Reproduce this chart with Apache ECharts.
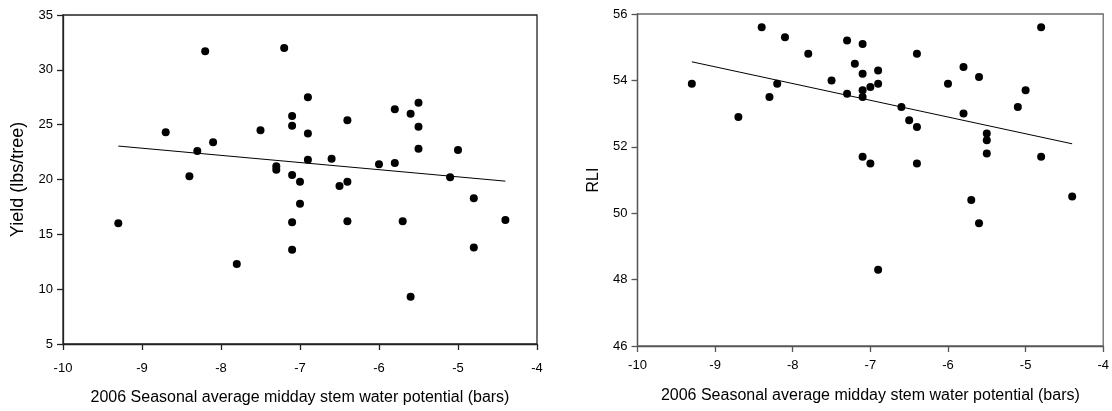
<!DOCTYPE html>
<html>
<head>
<meta charset="utf-8">
<script src="https://cdn.jsdelivr.net/npm/echarts@6/dist/echarts.min.js"></script>
<style>
  html, body { margin: 0; padding: 0; background: #fff; }
  #chart { width: 1112px; height: 411px; }
</style>
</head>
<body>
<div id="chart"></div>
<script>
// stem water potential (bars), one value per tree
const swpYield = [-9.3, -8.7, -8.4, -8.3, -8.2, -8.1, -7.8, -7.5, -7.3, -7.3,
  -7.2, -7.1, -7.1, -7.1, -7.1, -7.1, -7.0, -7.0, -6.9, -6.9,
  -6.9, -6.6, -6.5, -6.4, -6.4, -6.4, -6.0, -5.8, -5.8, -5.7,
  -5.6, -5.6, -5.5, -5.5, -5.5, -5.1, -5.0, -4.8, -4.8, -4.4];
const yieldVals = [16.0, 24.3, 20.3, 22.6, 31.7, 23.4, 12.3, 24.5, 21.2, 20.9,
  32.0, 25.8, 24.9, 20.4, 16.1, 13.6, 19.8, 17.8, 27.5, 24.2,
  21.8, 21.9, 19.4, 25.4, 19.8, 16.2, 21.4, 26.4, 21.5, 16.2,
  26.0, 9.3, 27.0, 24.8, 22.8, 20.2, 22.7, 18.3, 13.8, 16.3];

const swpRli = [-9.3, -8.7, -8.4, -8.3, -8.2, -8.1, -7.8, -7.5, -7.3, -7.3,
  -7.2, -7.1, -7.1, -7.1, -7.1, -7.1, -7.0, -7.0, -6.9, -6.9,
  -6.9, -6.6, -6.5, -6.4, -6.4, -6.4, -6.0, -5.8, -5.8, -5.7,
  -5.6, -5.6, -5.5, -5.5, -5.5, -5.1, -5.0, -4.8, -4.8, -4.4];
const rliVals = [53.9, 52.9, 55.6, 53.5, 53.9, 55.3, 54.8, 54.0, 55.2, 53.6,
  54.5, 55.1, 54.2, 53.7, 53.5, 51.7, 53.8, 51.5, 54.3, 53.9,
  48.3, 53.2, 52.8, 54.8, 52.6, 51.5, 53.9, 54.4, 53.0, 50.4,
  54.1, 49.7, 52.4, 52.2, 51.8, 53.2, 53.7, 55.6, 51.7, 50.5];

// regression line end points as drawn
const yieldFitX = [-9.3, -4.4];
const yieldFitY = [23.05, 19.85];
const rliFitX = [-9.3, -4.4];
const rliFitY = [54.56, 52.09];

const xTitle = '2006 Seasonal average midday stem water potential (bars)';
const font = 'Liberation Sans, Arial, sans-serif';

function pairs(xs, ys) {
  return xs.map((x, i) => [x, ys[i]]);
}

function xAxisOf(gridIndex, color, labelMargin, nameGap) {
  return {
    type: 'value',
    gridIndex: gridIndex,
    min: -10, max: -4, interval: 1,
    name: xTitle,
    nameLocation: 'middle',
    nameGap: nameGap,
    nameTextStyle: { fontFamily: font, fontSize: 16, color: '#000' },
    axisLine: { show: true, onZero: false, lineStyle: { color: color, width: 1.3 } },
    axisTick: { show: true, length: 6, lineStyle: { color: color, width: 1.3 } },
    axisLabel: { fontFamily: font, fontSize: 13, color: '#000', margin: labelMargin },
    splitLine: { show: false }
  };
}

function yAxisOf(gridIndex, color, min, max, step, name, nameSize) {
  return {
    type: 'value',
    gridIndex: gridIndex,
    min: min, max: max, interval: step,
    name: name,
    nameLocation: 'middle',
    nameGap: 36,
    nameTextStyle: { fontFamily: font, fontSize: nameSize, color: '#000' },
    axisLine: { show: true, onZero: false, lineStyle: { color: color, width: 1.3 } },
    axisTick: { show: true, length: 6, lineStyle: { color: color, width: 1.3 } },
    axisLabel: { fontFamily: font, fontSize: 13, color: '#000', margin: 10 },
    splitLine: { show: false }
  };
}

const chart = echarts.init(document.getElementById('chart'), null, { renderer: 'canvas' });

const option = {
  backgroundColor: '#ffffff',
  animation: false,
  grid: [
    { left: 63, top: 15, width: 474, height: 336, show: true, borderColor: '#222', borderWidth: 1.3 },
    { left: 637.5, top: 14, width: 469.5, height: 332, show: true, borderColor: '#6a6a6a', borderWidth: 1.3 }
  ],
  xAxis: [
    xAxisOf(0, '#222', 18, 46),
    xAxisOf(1, '#555', 13, 42)
  ],
  yAxis: [
    yAxisOf(0, '#222', 5, 35, 5, 'Yield (lbs/tree)', 18),
    yAxisOf(1, '#555', 46, 56, 2, 'RLI', 16)
  ],
  series: [
    {
      type: 'scatter',
      xAxisIndex: 0, yAxisIndex: 0,
      symbol: 'circle', symbolSize: 8,
      itemStyle: { color: '#000', opacity: 1 },
      data: pairs(swpYield, yieldVals)
    },
    {
      type: 'line',
      xAxisIndex: 0, yAxisIndex: 0,
      symbol: 'none',
      lineStyle: { color: '#000', width: 1 },
      data: pairs(yieldFitX, yieldFitY)
    },
    {
      type: 'scatter',
      xAxisIndex: 1, yAxisIndex: 1,
      symbol: 'circle', symbolSize: 8,
      itemStyle: { color: '#000', opacity: 1 },
      data: pairs(swpRli, rliVals)
    },
    {
      type: 'line',
      xAxisIndex: 1, yAxisIndex: 1,
      symbol: 'none',
      lineStyle: { color: '#000', width: 1 },
      data: pairs(rliFitX, rliFitY)
    }
  ]
};

chart.setOption(option);
</script>
</body>
</html>
